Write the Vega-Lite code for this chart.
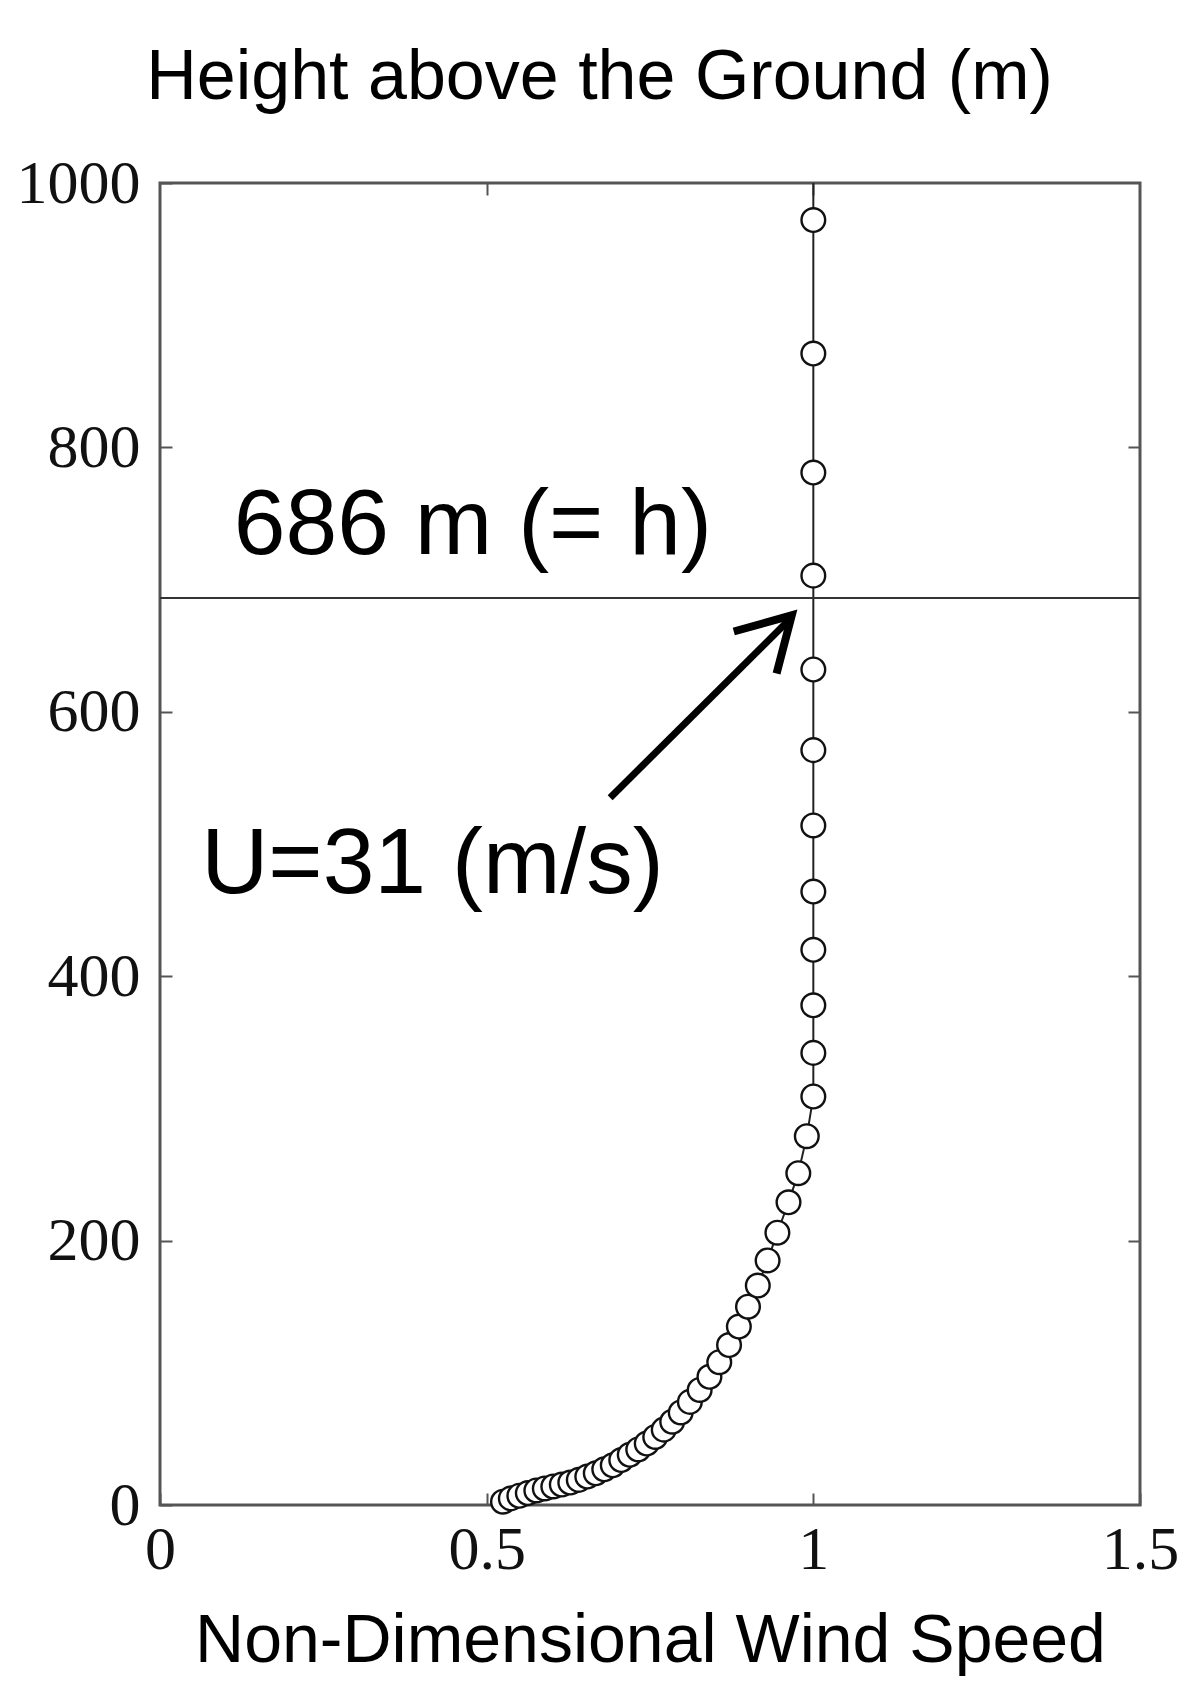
{
  "$schema": "https://vega.github.io/schema/vega-lite/v6.json",
  "width": 980,
  "height": 1322,
  "autosize": "none",
  "padding": {"left": 160, "top": 183, "right": 47, "bottom": 202},
  "background": "white",
  "config": {
    "view": {"stroke": "#555", "strokeWidth": 3},
    "axis": {
      "domain": false,
      "grid": false,
      "ticks": true,
      "tickSize": -12,
      "tickColor": "#555",
      "tickWidth": 2,
      "labelFont": "Liberation Serif",
      "labelFontSize": 62,
      "labelColor": "#111",
      "labelFlush": false,
      "labelOverlap": false,
      "titleFont": "Liberation Sans",
      "titleFontWeight": "normal",
      "titleFontSize": 66,
      "titleColor": "#000"
    }
  },
  "datasets": {
    "profile": [
      {"u": 0.525, "z": 2.5},
      {"u": 0.537, "z": 5},
      {"u": 0.55, "z": 7},
      {"u": 0.563, "z": 9},
      {"u": 0.576, "z": 11},
      {"u": 0.589, "z": 12.5},
      {"u": 0.602, "z": 14},
      {"u": 0.615, "z": 15.5},
      {"u": 0.628, "z": 17},
      {"u": 0.641, "z": 19},
      {"u": 0.654, "z": 21.5},
      {"u": 0.667, "z": 24},
      {"u": 0.68, "z": 27},
      {"u": 0.693, "z": 30},
      {"u": 0.706, "z": 34},
      {"u": 0.719, "z": 38},
      {"u": 0.732, "z": 42},
      {"u": 0.745, "z": 46.5},
      {"u": 0.758, "z": 51.5},
      {"u": 0.771, "z": 57},
      {"u": 0.784, "z": 63},
      {"u": 0.797, "z": 70},
      {"u": 0.811, "z": 78},
      {"u": 0.826, "z": 87},
      {"u": 0.841, "z": 97},
      {"u": 0.856, "z": 108},
      {"u": 0.871, "z": 121},
      {"u": 0.886, "z": 135},
      {"u": 0.9, "z": 150},
      {"u": 0.915, "z": 166},
      {"u": 0.93, "z": 185},
      {"u": 0.945, "z": 206},
      {"u": 0.962, "z": 229},
      {"u": 0.977, "z": 251},
      {"u": 0.99, "z": 279},
      {"u": 1.0, "z": 309},
      {"u": 1.0, "z": 342},
      {"u": 1.0, "z": 378},
      {"u": 1.0, "z": 420},
      {"u": 1.0, "z": 464},
      {"u": 1.0, "z": 514},
      {"u": 1.0, "z": 571},
      {"u": 1.0, "z": 632},
      {"u": 1.0, "z": 703},
      {"u": 1.0, "z": 781},
      {"u": 1.0, "z": 871},
      {"u": 1.0, "z": 972},
      {"u": 1.0, "z": 1000}
    ]
  },
  "resolve": {"axis": {"x": "independent", "y": "independent"}},
  "layer": [
    {
      "data": {"name": "profile"},
      "mark": {"type": "line", "color": "#222", "strokeWidth": 2},
      "encoding": {
        "x": {"field": "u", "type": "quantitative", "scale": {"domain": [0, 1.5], "nice": false},
              "axis": {"orient": "top", "labels": false, "title": null, "values": [0.5, 1]}},
        "y": {"field": "z", "type": "quantitative", "scale": {"domain": [0, 1000], "nice": false},
              "axis": {"orient": "right", "labels": false, "title": null, "values": [200, 400, 600, 800]}},
        "order": {"field": "z", "type": "quantitative"}
      }
    },
    {
      "data": {"values": [{}]},
      "mark": {"type": "rule", "color": "#333", "strokeWidth": 2},
      "encoding": {"y": {"datum": 686, "type": "quantitative", "axis": null}}
    },
    {
      "data": {"name": "profile"},
      "transform": [{"filter": "datum.z < 1000"}],
      "mark": {"type": "point", "shape": "circle", "filled": true, "fill": "white", "stroke": "#111", "strokeWidth": 2.4, "size": 560, "opacity": 1},
      "encoding": {
        "x": {"field": "u", "type": "quantitative", "scale": {"domain": [0, 1.5], "nice": false},
              "axis": {"orient": "bottom", "values": [0, 0.5, 1, 1.5], "format": "~g", "labelPadding": 26,
                       "title": "Non-Dimensional Wind Speed", "titleFontSize": 68, "titleY": 156, "titleBaseline": "alphabetic"}},
        "y": {"field": "z", "type": "quantitative", "scale": {"domain": [0, 1000], "nice": false},
              "axis": {"orient": "left", "values": [0, 200, 400, 600, 800, 1000], "format": "d", "labelPadding": 32,
                       "title": "Height above the Ground (m)", "titleFontSize": 70, "titleAngle": 0, "titleX": 439, "titleY": -85,
                       "titleAlign": "center", "titleBaseline": "alphabetic"}}
      }
    },
    {
      "data": {"values": [{}]},
      "mark": {"type": "rule", "color": "#000", "strokeWidth": 7},
      "encoding": {
        "x": {"datum": 0.689, "type": "quantitative", "axis": null},
        "y": {"datum": 535, "type": "quantitative", "axis": null},
        "x2": {"datum": 0.962},
        "y2": {"datum": 669}
      }
    },
    {
      "data": {"values": [{}]},
      "mark": {"type": "point", "shape": "M -0.5 0.87 L 0 0 L 0.5 0.87", "filled": false, "fill": null, "stroke": "#000", "strokeWidth": 8, "strokeJoin": "miter", "strokeCap": "butt", "size": 14400, "angle": 44.5, "opacity": 1},
      "encoding": {
        "x": {"datum": 0.967, "type": "quantitative", "axis": null},
        "y": {"datum": 673, "type": "quantitative", "axis": null}
      }
    },
    {
      "data": {"values": [{}]},
      "mark": {"type": "text", "text": "686 m (= h)", "font": "Liberation Sans", "fontSize": 93, "align": "left", "baseline": "alphabetic", "color": "#000"},
      "encoding": {
        "x": {"datum": 0.113, "type": "quantitative", "axis": null},
        "y": {"datum": 719, "type": "quantitative", "axis": null}
      }
    },
    {
      "data": {"values": [{}]},
      "mark": {"type": "text", "text": "U=31 (m/s)", "font": "Liberation Sans", "fontSize": 93, "align": "left", "baseline": "alphabetic", "color": "#000"},
      "encoding": {
        "x": {"datum": 0.063, "type": "quantitative", "axis": null},
        "y": {"datum": 463, "type": "quantitative", "axis": null}
      }
    }
  ]
}
